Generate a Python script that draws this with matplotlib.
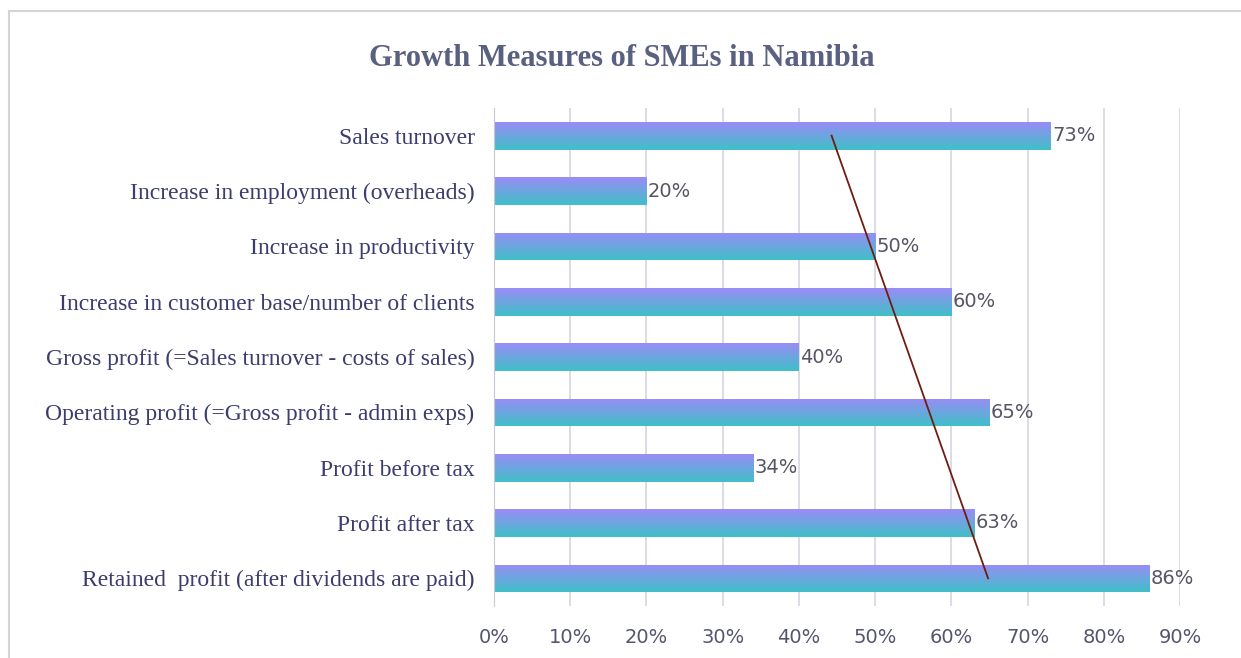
# Growth measures bar chart with gradient fill and linear trendline
import matplotlib.pyplot as plt
import numpy as np
from matplotlib.colors import LinearSegmentedColormap
from matplotlib.patches import Rectangle
from matplotlib.ticker import FuncFormatter

categories = ['Sales turnover',
              'Increase in employment (overheads)',
              'Increase in productivity',
              'Increase in customer base/number of clients',
              'Gross profit (=Sales turnover - costs of sales)',
              'Operating profit (=Gross profit - admin exps)',
              'Profit before tax',
              'Profit after tax',
              'Retained  profit (after dividends are paid)']
values = [0.73, 0.20, 0.50, 0.60, 0.40, 0.65, 0.34, 0.63, 0.86]
value_labels = ['73%', '20%', '50%', '60%', '40%', '65%', '34%', '63%', '86%']
x_ticks = [0, 0.1, 0.2, 0.3, 0.4, 0.5, 0.6, 0.7, 0.8, 0.9]

fig = plt.figure(figsize=(12.41, 6.58), dpi=100)
ax = fig.add_axes([494 / 1241, 1 - 606 / 658, (1180 - 494) / 1241, (606 - 108) / 658])

# chart border (light grey, open to the right and bottom)
fig.patches.append(Rectangle((9 / 1241, -0.1), 1.2, 1 - 11 / 658 + 0.1,
                             transform=fig.transFigure, fill=False,
                             edgecolor='#d4d4d8', lw=1.5))

n = len(values)
pos = np.arange(n)[::-1]  # first category on top
h = 0.5
grad = LinearSegmentedColormap.from_list('g', ['#3fc0c8', '#9a8cf6'])
g_img = np.linspace(0, 1, 64).reshape(-1, 1)

bars = ax.barh(pos, values, height=h, color='none', edgecolor='none', zorder=2)
for b, v, y in zip(bars, values, pos):
    im = ax.imshow(g_img, cmap=grad, origin='lower', aspect='auto',
                   extent=(0, v, y - h / 2, y + h / 2), zorder=2)
    im.set_clip_path(b)

for v, y, t in zip(values, pos, value_labels):
    ax.text(v + 0.002, y, t, va='center', ha='left', fontsize=14,
            family='DejaVu Sans', color='#555566')

# linear trendline fitted over the category order
idx = np.arange(1, n + 1)
k, c = np.polyfit(idx, values, 1)
ax.plot(k * idx[[0, -1]] + c, pos[[0, -1]], color='#6e1d10', lw=1.3, zorder=3)

ax.set_xlim(0, 0.9)
ax.set_ylim(-0.5, n - 0.5)
ax.set_xticks(x_ticks)
ax.xaxis.set_major_formatter(FuncFormatter(lambda x, _: '%d%%' % round(x * 100)))
ax.set_yticks(pos)
ax.set_yticklabels(categories, family='Liberation Serif', fontsize=17, color='#3c3c6e')
ax.tick_params(axis='y', length=0, pad=14)
ax.tick_params(axis='x', length=0, pad=16, labelsize=14, labelcolor='#555570')
for lab in ax.get_xticklabels():
    lab.set_family('DejaVu Sans')

ax.grid(axis='x', color='#d6d6e2', lw=1.2, zorder=0)
ax.set_axisbelow(True)
for s in ['top', 'right', 'bottom']:
    ax.spines[s].set_visible(False)
ax.spines['left'].set_color('#c8c8d0')

fig.text(622 / 1241, 1 - 58 / 658, 'Growth Measures of SMEs in Namibia',
         ha='center', va='center', family='Liberation Serif', fontweight='bold',
         fontsize=22, color='#5a6080')

fig.savefig('out.png', dpi=100)
